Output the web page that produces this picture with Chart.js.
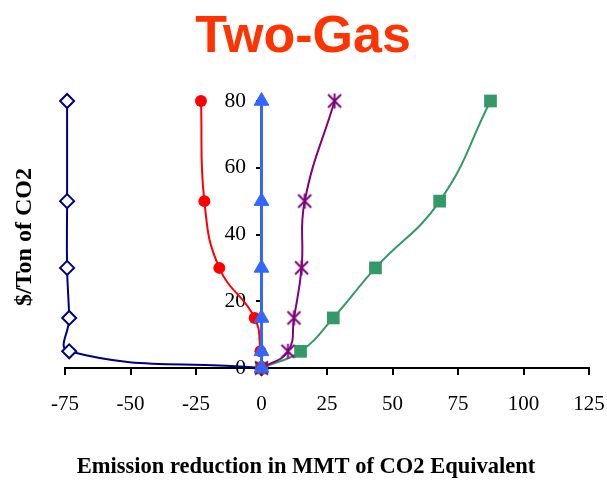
<!DOCTYPE html>
<html>
<head>
<meta charset="utf-8">
<title>Two-Gas</title>
<script src="https://cdn.jsdelivr.net/npm/chart.js@4/dist/chart.umd.min.js"></script>
<style>
  html, body { margin: 0; padding: 0; background: #fff; }
  #chart { display: block; }
</style>
</head>
<body>
<canvas id="chart" width="607" height="481"></canvas>
<script>
// price levels ($/ton) shared by every curve
const priceLevels = [0, 5, 15, 30, 50, 80];

// emission reduction (MMT CO2 eq.) at each price level
const curveA = [0, -73.4, -73.4, -74.2, -74.2, -74.2];
const curveB = [0, -0.4, -2.6, -16.1, -21.8, -23.1];
const curveC = [0, 0, 0, 0, 0, 0];
const curveD = [0, 10.1, 12.4, 15.3, 16.5, 27.9];
const curveE = [0, 14.9, 27.4, 43.5, 68.0, 87.4];

const xTicks = [-75, -50, -25, 0, 25, 50, 75, 100, 125];
const yTicks = [0, 20, 40, 60, 80];

const toPoints = (xs) => xs.map((x, i) => ({ x: x, y: priceLevels[i] }));

// Excel-style star marker: an X with a vertical bar
function starMarker(color) {
    const c = document.createElement('canvas');
    c.width = 17; c.height = 17;
    const g = c.getContext('2d');
    g.strokeStyle = color;
    g.lineWidth = 2;
    g.beginPath();
    g.moveTo(2, 2); g.lineTo(15, 15);
    g.moveTo(15, 2); g.lineTo(2, 15);
    g.moveTo(8.5, 1); g.lineTo(8.5, 16);
    g.stroke();
    return c;
}

const serif = '"Liberation Serif", "Times New Roman", serif';

// the y axis takes no room on the left; after layout it is moved onto x = 0
// (left edge kept wide enough so its labels are not clipped)
const yAxisAtZero = {
    id: 'yAxisAtZero',
    afterLayout(chart) {
        const y = chart.scales.y;
        const x0 = Math.round(chart.scales.x.getPixelForValue(0));
        y.left = x0 - 60;
        y.right = x0;
    }
};

// heading and axis titles drawn in fixed spots around the plot
const chartTexts = {
    id: 'chartTexts',
    afterDraw(chart) {
        const ctx = chart.ctx;
        ctx.save();
        ctx.textAlign = 'center';
        ctx.textBaseline = 'alphabetic';
        ctx.fillStyle = '#ff3300';
        ctx.font = 'bold 52px "Liberation Sans", Arial, sans-serif';
        ctx.fillText('Two-Gas', 303, 52);

        ctx.fillStyle = '#000';
        ctx.textBaseline = 'middle';
        ctx.font = 'bold 22.5px ' + serif;
        ctx.fillText('Emission reduction in MMT of CO2 Equivalent', 306, 467);
        ctx.font = 'bold 24px ' + serif;
        ctx.translate(25, 237);
        ctx.rotate(-Math.PI / 2);
        ctx.fillText('$/Ton of CO2', 0, 0);
        ctx.restore();
    }
};

const common = { showLine: true, tension: 0.45, capBezierPoints: false, clip: false, borderWidth: 2 };

new Chart(document.getElementById('chart'), {
    type: 'scatter',
    data: {
        datasets: [
            Object.assign({}, common, {
                data: toPoints(curveC), order: 1, borderColor: '#3366ff', backgroundColor: '#3366ff',
                borderWidth: 3, pointStyle: 'triangle', pointRadius: 8.5, pointBorderWidth: 1
            }),
            Object.assign({}, common, {
                data: toPoints(curveB), order: 2, borderColor: '#ff0000', backgroundColor: '#ff0000',
                pointStyle: 'circle', pointRadius: 6, pointBorderWidth: 0
            }),
            Object.assign({}, common, {
                data: toPoints(curveD), order: 3, borderColor: '#800080', backgroundColor: '#800080',
                pointStyle: starMarker('#800080')
            }),
            Object.assign({}, common, {
                data: toPoints(curveE), order: 4, borderColor: '#339966', backgroundColor: '#339966',
                pointStyle: 'rect', pointRadius: 9, pointBorderWidth: 0
            }),
            Object.assign({}, common, {
                data: toPoints(curveA), order: 5, borderColor: '#000080', backgroundColor: '#ffffff',
                pointStyle: 'rectRot', pointRadius: 7, pointBorderWidth: 2
            })
        ]
    },
    options: {
        responsive: false,
        animation: false,
        devicePixelRatio: 1,
        layout: { padding: { left: 65, right: 18, top: 101, bottom: 0 } },
        plugins: {
            legend: { display: false },
            tooltip: { enabled: false },
            title: { display: false }
        },
        scales: {
            x: {
                type: 'linear',
                min: xTicks[0],
                max: xTicks[xTicks.length - 1],
                afterBuildTicks: (s) => { s.ticks = xTicks.map(v => ({ value: v })); },
                afterFit: (s) => { s.height = 113; s.paddingLeft = 0; s.paddingRight = 0; },
                grid: { drawOnChartArea: false, drawTicks: true, tickLength: 7, color: '#000', lineWidth: 2 },
                border: { display: true, color: '#000', width: 2 },
                ticks: { color: '#000', padding: 17, maxRotation: 0, font: { family: serif, size: 21 } }
            },
            y: {
                type: 'linear',
                position: 'left',
                min: yTicks[0],
                max: yTicks[yTicks.length - 1],
                afterBuildTicks: (s) => { s.ticks = yTicks.map(v => ({ value: v })); },
                afterFit: (s) => { s.width = 0; s.paddingTop = 0; s.paddingBottom = 0; },
                grid: { drawOnChartArea: false, drawTicks: true, tickLength: 6, color: '#000', lineWidth: 2 },
                border: { display: true, color: '#000', width: 2 },
                ticks: { color: '#000', padding: 10, font: { family: serif, size: 21.5 } }
            }
        }
    },
    plugins: [yAxisAtZero, chartTexts]
});
</script>
</body>
</html>
